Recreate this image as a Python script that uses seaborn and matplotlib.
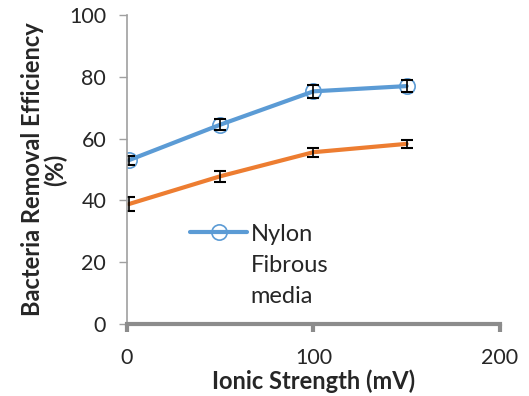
import matplotlib
matplotlib.use("Agg")
import matplotlib.pyplot as plt
import seaborn as sns
import pandas as pd

ionic = [1, 50, 100, 150]
nylon = [53.0, 64.5, 75.3, 77.0]
nylon_err = [1.5, 1.8, 2.2, 2.0]
other = [38.8, 47.8, 55.6, 58.3]
other_err = [2.2, 1.8, 1.5, 1.4]

sns.set_style("white")
plt.rcParams['font.family'] = ['Lato', 'DejaVu Sans']

df = pd.DataFrame({"x": ionic * 2, "y": nylon + other,
                   "s": ["Nylon\nFibrous\nmedia"] * 4 + ["other"] * 4})

fig = plt.figure(figsize=(5.29, 3.96), dpi=100)
ax = fig.add_axes([0.24, 0.182, 0.705, 0.78])

blue = "#5B9BD5"
orange = "#ED7D31"
sns.lineplot(data=df[df.s == "other"], x="x", y="y", color=orange, lw=3, ax=ax,
             legend=False, label="_nolegend_")
sns.lineplot(data=df[df.s != "other"], x="x", y="y", color=blue, lw=3, ax=ax,
             marker="o", markersize=11, markerfacecolor="none",
             markeredgecolor=blue, markeredgewidth=1.2, label="Nylon\nFibrous\nmedia")
ax.errorbar(ionic, other, yerr=other_err, fmt="none", ecolor="black", elinewidth=1.2, capsize=4, capthick=1.5)
ax.errorbar(ionic, nylon, yerr=nylon_err, fmt="none", ecolor="black", elinewidth=1.2, capsize=4, capthick=1.5)

ax.set_xlim(0, 200)
ax.set_ylim(0, 100)
ax.set_xticks([0, 100, 200])
ax.set_yticks([0, 20, 40, 60, 80, 100])
for s in ["top", "right"]:
    ax.spines[s].set_visible(False)
ax.spines["left"].set_color("#A0A0A0")
ax.spines["left"].set_linewidth(1.2)
ax.spines["bottom"].set_color("#8C8C8C")
ax.spines["bottom"].set_linewidth(3)
ax.tick_params(axis="y", left=True, length=6, width=1, color="#A0A0A0", labelsize=15.5, pad=9)
ax.tick_params(axis="x", bottom=True, length=6, width=3, color="#8C8C8C", labelsize=15.5, pad=11)
ax.set_xlabel("Ionic Strength (mV)", fontsize=17, fontweight="bold", labelpad=1)
ax.set_ylabel("Bacteria Removal Efficiency\n(%)", fontsize=17, fontweight="bold", labelpad=1, linespacing=1.0)

leg = ax.legend(loc="upper left", bbox_to_anchor=(0.17, 0.325), frameon=False, fontsize=17,
                handlelength=2.4, handletextpad=0.15, borderpad=0, borderaxespad=0)
for t in leg.get_texts():
    t.set_linespacing(1.6)
for col in leg._legend_handle_box.get_children():
    for hp in col.get_children():
        hp.align = "top"

fig.savefig("out.png", dpi=100)
